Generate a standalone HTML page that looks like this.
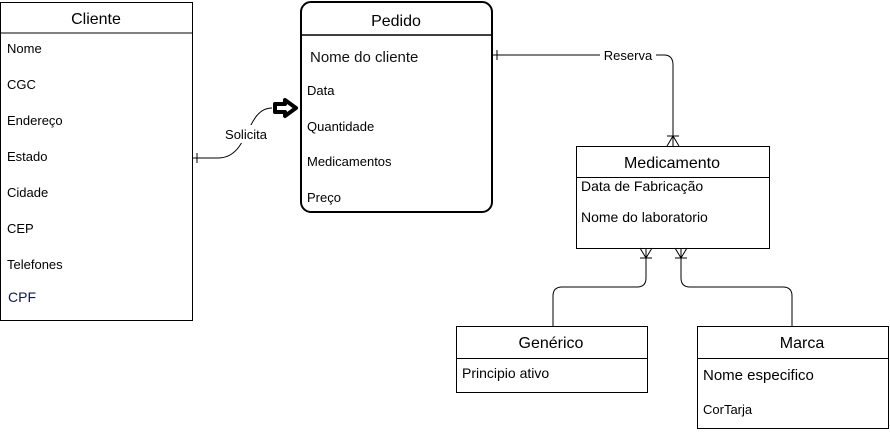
<!DOCTYPE html>
<html><head><style>body{margin:0;background:#fff}svg{display:block}</style></head><body>
<svg width="890" height="432" viewBox="0 0 890 432" xmlns="http://www.w3.org/2000/svg" font-family="Liberation Sans, sans-serif">
<rect width="890" height="432" fill="#fff"/>
<g fill="none" stroke="#000" stroke-width="1">
<rect x="0.5" y="2.5" width="192" height="318"/>
<line x1="0.5" y1="33" x2="192.5" y2="33"/>
<rect x="576.5" y="146.5" width="193" height="102"/>
<line x1="576.5" y1="177.5" x2="769.5" y2="177.5"/>
<rect x="456.5" y="326.5" width="191" height="66"/>
<line x1="456.5" y1="358.5" x2="647.5" y2="358.5"/>
<rect x="697.5" y="326.5" width="191" height="102"/>
<line x1="697.5" y1="358.5" x2="888.5" y2="358.5"/>
<path d="M192 158 L218 158 C250 158 245 108 272 108"/>
<line x1="197" y1="153" x2="197" y2="163"/>
<path d="M492 55 L664 55 Q673 55 673 65 L673 146"/>
<line x1="497" y1="50" x2="497" y2="60"/>
<line x1="667" y1="136" x2="679" y2="136"/>
<path d="M667 146 L673 136 L679 146"/>
<path d="M646 248 L646 278 Q646 287 637 287 L562 287 Q553 287 553 296 L553 326"/>
<path d="M681 248 L681 278 Q681 287 690 287 L783 287 Q792 287 792 296 L792 326"/>
<line x1="640" y1="258" x2="652" y2="258"/>
<path d="M640 248 L646 258 L652 248"/>
<line x1="675" y1="258" x2="687" y2="258"/>
<path d="M675 248 L681 258 L687 248"/>
</g>
<rect x="301" y="2" width="191" height="210" rx="10" fill="none" stroke="#000" stroke-width="2"/>
<line x1="301" y1="35" x2="492" y2="35" stroke="#000" stroke-width="1.5"/>
<path d="M275 104 L285 104 L285 100 L296 108 L285 116 L285 112 L275 112 Z" fill="#fff" stroke="#000" stroke-width="4" stroke-linejoin="round"/>
<rect x="219" y="125" width="52" height="18" fill="#fff"/>
<text x="246" y="139" font-size="13" text-anchor="middle">Solicita</text>
<rect x="600" y="47" width="56" height="17" fill="#fff"/>
<text x="628" y="60" font-size="13" text-anchor="middle">Reserva</text>
<g font-size="16" text-anchor="middle">
<text x="96" y="24">Cliente</text>
<text x="396" y="26">Pedido</text>
<text x="672" y="168">Medicamento</text>
<text x="551" y="348">Genérico</text>
<text x="802" y="348">Marca</text>
</g>
<g font-size="13">
<text x="7" y="53">Nome</text>
<text x="7" y="89">CGC</text>
<text x="7" y="125">Endereço</text>
<text x="7" y="161">Estado</text>
<text x="7" y="197">Cidade</text>
<text x="7" y="233">CEP</text>
<text x="7" y="269">Telefones</text>
<text x="8" y="302" font-size="14" fill="#0a1a5a">CPF</text>
<text x="310" y="62" font-size="15" fill="#111">Nome do cliente</text>
<text x="307" y="95">Data</text>
<text x="307" y="131">Quantidade</text>
<text x="307" y="166">Medicamentos</text>
<text x="307" y="202">Preço</text>
<text x="581" y="191" font-size="14">Data de Fabricação</text>
<text x="581" y="222" font-size="14">Nome do laboratorio</text>
<text x="462" y="378" font-size="14">Principio ativo</text>
<text x="703" y="380" font-size="15">Nome especifico</text>
<text x="703" y="414">CorTarja</text>
</g>
</svg>
</body></html>
